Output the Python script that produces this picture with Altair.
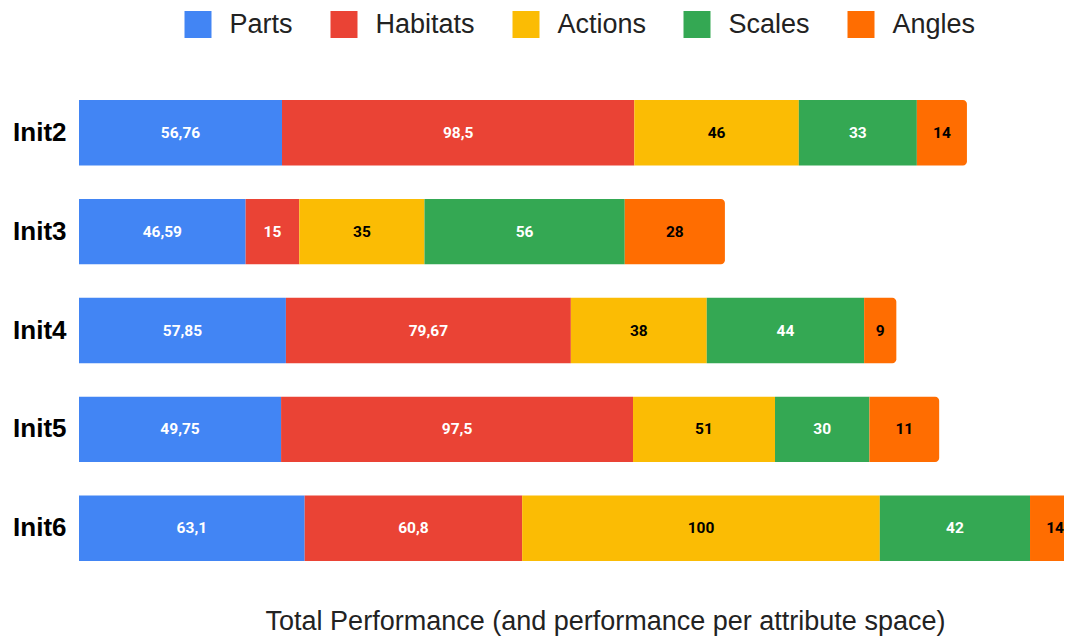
import altair as alt
import pandas as pd

categories = ["Init2", "Init3", "Init4", "Init5", "Init6"]
series = ["Parts", "Habitats", "Actions", "Scales", "Angles"]
colors = ["#4285F4", "#EA4335", "#FBBC04", "#34A853", "#FF6D01"]
text_colors = ["white", "white", "black", "white", "black"]

# segment labels as printed on the bars
parts_lab = ["56,76", "46,59", "57,85", "49,75", "63,1"]
habitats_lab = ["98,5", "15", "79,67", "97,5", "60,8"]
actions_lab = ["46", "35", "38", "51", "100"]
scales_lab = ["33", "56", "44", "30", "42"]
angles_lab = ["14", "28", "9", "11", "14"]

# segment lengths as drawn (Init5 bars are drawn differently from their labels)
parts = [56.76, 46.59, 57.85, 56.5, 63.1]
habitats = [98.5, 15, 79.67, 98.4, 60.8]
actions = [46, 35, 38, 39.7, 100]
scales = [33, 56, 44, 26.4, 42]
angles = [14, 28, 9, 19.5, 14]

values = [parts, habitats, actions, scales, angles]
labels = [parts_lab, habitats_lab, actions_lab, scales_lab, angles_lab]

rows = []
for si, s in enumerate(series):
    for ci, c in enumerate(categories):
        rows.append({"cat": c, "series": s, "idx": si, "value": values[si][ci],
                     "label": labels[si][ci], "tcol": text_colors[si]})
df = pd.DataFrame(rows)

base = alt.Chart(df).transform_stack(
    stack="value", groupby=["cat"], sort=[alt.SortField("idx")], as_=["x0", "x1"]
).transform_calculate(mid="(datum.x0 + datum.x1) / 2")

yenc = alt.Y("cat:N", sort=categories,
             scale=alt.Scale(paddingInner=0.338, paddingOuter=0.172),
             axis=alt.Axis(title=None, ticks=False, domain=False, labelFontSize=26,
                           labelFont="Liberation Sans", labelFontWeight="bold",
                           labelColor="black", labelPadding=13))

xscale = alt.Scale(domain=[0, 275.4], nice=False, zero=True)

bars = base.mark_bar(
    clip=True,
    cornerRadiusTopRight=alt.ExprRef("datum.series === 'Angles' ? 4 : 0"),
    cornerRadiusBottomRight=alt.ExprRef("datum.series === 'Angles' ? 4 : 0"),
).encode(
    x=alt.X("x0:Q", scale=xscale,
            axis=alt.Axis(title="Total Performance (and performance per attribute space)",
                          labels=False, ticks=False, domain=False, grid=False,
                          titleFontSize=27, titleFont="Liberation Sans",
                          titleFontWeight="normal", titleColor="#222",
                          titleX=526, titleY=51, titleBaseline="alphabetic",
                          titleAlign="center")),
    x2="x1:Q",
    y=yenc,
    color=alt.Color("series:N", sort=series,
                    scale=alt.Scale(domain=series, range=colors),
                    legend=alt.Legend(orient="none", legendX=105.5, legendY=-72,
                                      direction="horizontal", title=None,
                                      symbolType="square", symbolSize=729,
                                      symbolStrokeWidth=0, symbolOpacity=1,
                                      labelFontSize=27, labelFont="Liberation Sans",
                                      labelColor="#222", labelOffset=18,
                                      columnPadding=37)),
    order=alt.Order("idx:Q"),
)

texts = base.mark_text(font="Roboto", fontWeight="bold", fontSize=15.5,
                       align="center", baseline="middle").encode(
    x=alt.X("mid:Q", scale=xscale),
    y=alt.Y("cat:N", sort=categories),
    text="label:N",
    color=alt.Color("tcol:N", scale=None),
)

chart = alt.layer(bars, texts).properties(
    width=985, height=495,
    autosize="none",
    padding={"left": 71, "top": 75, "right": 0, "bottom": 58},
).configure_view(stroke=None)

chart.save("out.html", embed_options={"renderer": "svg", "actions": False})
